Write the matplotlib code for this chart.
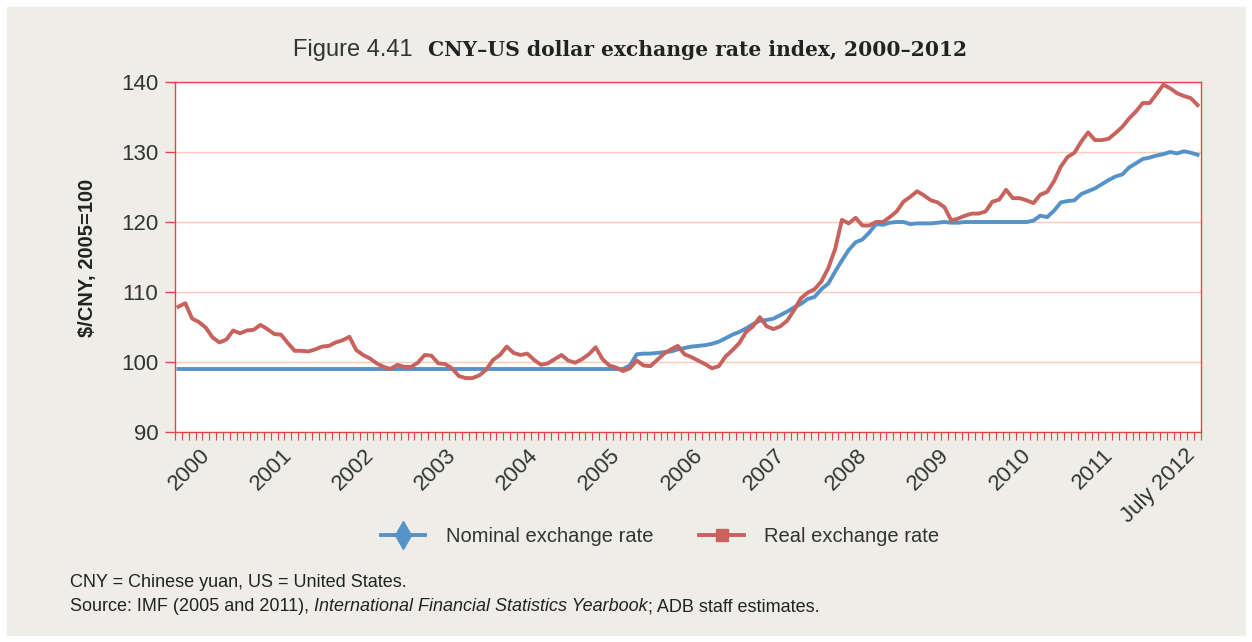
import matplotlib
matplotlib.use("Agg")
import matplotlib.pyplot as plt
import matplotlib.transforms as mtransforms
import numpy as np
from matplotlib.lines import Line2D
from matplotlib.patches import Rectangle

plt.rcParams["font.family"] = ["Liberation Sans", "DejaVu Sans"]

W, H = 1252, 642
BLUE = "#5592c8"
RED = "#c8625c"
AXRED = "#e8434b"
GRID = "#f9cbb8"
TXT = "#333333"

# monthly index values, 2005 = 100 (150 months ending July 2012)
nominal = [
    99.0, 99.0, 99.0, 99.0, 99.0, 99.0, 99.0, 99.0, 99.0, 99.0,
    99.0, 99.0, 99.0, 99.0, 99.0, 99.0, 99.0, 99.0, 99.0, 99.0,
    99.0, 99.0, 99.0, 99.0, 99.0, 99.0, 99.0, 99.0, 99.0, 99.0,
    99.0, 99.0, 99.0, 99.0, 99.0, 99.0, 99.0, 99.0, 99.0, 99.0,
    99.0, 99.0, 99.0, 99.0, 99.0, 99.0, 99.0, 99.0, 99.0, 99.0,
    99.0, 99.0, 99.0, 99.0, 99.0, 99.0, 99.0, 99.0, 99.0, 99.0,
    99.0, 99.0, 99.0, 99.0, 99.0, 99.0, 99.5, 101.1, 101.2, 101.2,
    101.3, 101.4, 101.5, 101.8, 102.0, 102.2, 102.3, 102.4, 102.6, 102.9,
    103.4, 103.9, 104.3, 104.8, 105.4, 105.9, 106.0, 106.2, 106.7, 107.2,
    107.8, 108.3, 109.0, 109.3, 110.4, 111.2, 112.9, 114.5, 116.0, 117.1,
    117.5, 118.5, 119.7, 119.6, 119.9, 120.0, 120.0, 119.7, 119.8, 119.8,
    119.8, 119.9, 120.0, 119.9, 119.9, 120.0, 120.0, 120.0, 120.0, 120.0,
    120.0, 120.0, 120.0, 120.0, 120.0, 120.2, 120.9, 120.7, 121.6, 122.8,
    123.0, 123.1, 124.0, 124.4, 124.8, 125.4, 126.0, 126.5, 126.8, 127.8,
    128.4, 129.0, 129.2, 129.5, 129.7, 130.0, 129.8, 130.1, 129.9, 129.6,
]

real = [
    107.9, 108.4, 106.2, 105.7, 104.9, 103.5, 102.8, 103.2, 104.5, 104.1,
    104.5, 104.6, 105.3, 104.7, 104.0, 103.9, 102.7, 101.6, 101.6, 101.5,
    101.8, 102.2, 102.3, 102.8, 103.1, 103.6, 101.7, 101.0, 100.5, 99.8,
    99.3, 99.0, 99.6, 99.3, 99.3, 99.9, 101.0, 100.9, 99.8, 99.7,
    99.1, 98.0, 97.7, 97.7, 98.1, 98.9, 100.3, 101.0, 102.2, 101.3,
    101.0, 101.2, 100.3, 99.6, 99.8, 100.4, 101.0, 100.2, 99.9, 100.4,
    101.1, 102.1, 100.4, 99.5, 99.2, 98.7, 99.1, 100.2, 99.5, 99.4,
    100.3, 101.2, 101.8, 102.3, 101.1, 100.7, 100.2, 99.7, 99.1, 99.4,
    100.8, 101.7, 102.7, 104.3, 105.1, 106.4, 105.1, 104.7, 105.1, 105.9,
    107.4, 109.1, 109.9, 110.4, 111.5, 113.4, 116.1, 120.3, 119.8, 120.6,
    119.5, 119.5, 120.0, 120.0, 120.7, 121.5, 122.9, 123.6, 124.4, 123.8,
    123.1, 122.8, 122.1, 120.2, 120.5, 120.9, 121.2, 121.2, 121.5, 122.9,
    123.2, 124.6, 123.4, 123.4, 123.1, 122.7, 123.9, 124.3, 125.8, 127.9,
    129.3, 129.9, 131.5, 132.8, 131.7, 131.7, 131.9, 132.7, 133.6, 134.8,
    135.8, 137.0, 137.0, 138.3, 139.6, 139.1, 138.4, 138.0, 137.7, 136.7,
]

year_labels = ["2000", "2001", "2002", "2003", "2004", "2005", "2006",
               "2007", "2008", "2009", "2010", "2011", "July 2012"]
label_pos = [5, 17, 29, 41, 53, 65, 77, 89, 101, 113, 125, 137, 149]

fig = plt.figure(figsize=(W / 100, H / 100), dpi=100, facecolor="white")
fig.patches.append(Rectangle((7 / W, 1 - 635 / H), 1238 / W, 628 / H,
                             transform=fig.transFigure, color="#efede8",
                             zorder=-10))

ax = fig.add_axes([175 / W, 1 - 432 / H, 1026 / W, 350 / H])
ax.set_facecolor("white")

x = np.arange(len(real))
ax.plot(x, nominal, color=BLUE, lw=2.8, solid_joinstyle="round")
ax.plot(x, real, color=RED, lw=2.8, solid_joinstyle="round")

ax.set_xlim(-0.5, len(real) - 0.5)
ax.set_ylim(90, 140)
ax.set_yticks(range(90, 141, 10))
ax.yaxis.grid(True, color=GRID, lw=1)
ax.set_axisbelow(True)
for s in ax.spines.values():
    s.set_color(AXRED)
    s.set_linewidth(1)

ax.tick_params(axis="y", length=7, width=1, color=AXRED, labelsize=16,
               labelcolor=TXT, pad=5)
ax.set_xticks(label_pos)
ax.set_xticklabels(year_labels, rotation=45, ha="right", va="top",
                   rotation_mode="anchor")
ax.set_xticks(np.arange(-0.5, len(real), 1), minor=True)
ax.tick_params(axis="x", which="major", length=0, pad=9, labelsize=16,
               labelcolor=TXT)
ax.tick_params(axis="x", which="minor", length=6, width=0.8, color=AXRED)

# nudge the slanted year labels left so they end under their month
shift = mtransforms.ScaledTranslation(-0.13, 0, fig.dpi_scale_trans)
for lab in ax.get_xticklabels():
    lab.set_transform(lab.get_transform() + shift)

fig.text(88 / W, 1 - 258 / H, r"\$/CNY, 2005=100", rotation=90, ha="center",
         va="center", fontsize=14.5, fontweight="bold", color="#222222")

# title: plain figure number, then bold serif caption
fig.text(413 / W, 1 - 56 / H, "Figure 4.41", ha="right", va="baseline",
         fontsize=17, color=TXT)
fig.text(428 / W, 1 - 56 / H, "CNY\u2013US dollar exchange rate index, 2000\u20132012",
         ha="left", va="baseline", fontsize=14.6, fontweight="bold",
         family=["DejaVu Serif"], color="#222222")

handles = [
    Line2D([], [], color=BLUE, lw=2.8, marker="d", markersize=14,
           markeredgecolor=BLUE),
    Line2D([], [], color=RED, lw=2.8, marker="s", markersize=9,
           markeredgecolor=RED),
]
fig.legend(handles, ["Nominal exchange rate", "Real exchange rate"],
           loc="center", bbox_to_anchor=(660 / W, 1 - 537 / H), ncol=2,
           frameon=False, fontsize=14.5, handlelength=2.2, handletextpad=1.0,
           columnspacing=2.3, labelcolor=TXT)


def put_runs(x_px, y_px, runs, size=13):
    # lay text pieces side by side on one baseline
    renderer = fig.canvas.get_renderer()
    for s, style in runs:
        t = fig.text(x_px / W, 1 - y_px / H, s, ha="left", va="baseline",
                     fontsize=size, style=style, color="#222222")
        x_px += t.get_window_extent(renderer).width


put_runs(70, 587, [("CNY = Chinese yuan, US = United States.", "normal")])
put_runs(70, 611, [("Source: IMF (2005 and 2011),", "normal"),
                   (" International Financial Statistics Yearbook", "italic"),
                   ("; ADB staff estimates.", "normal")])

fig.savefig("out.png", dpi=100, facecolor=fig.get_facecolor())
